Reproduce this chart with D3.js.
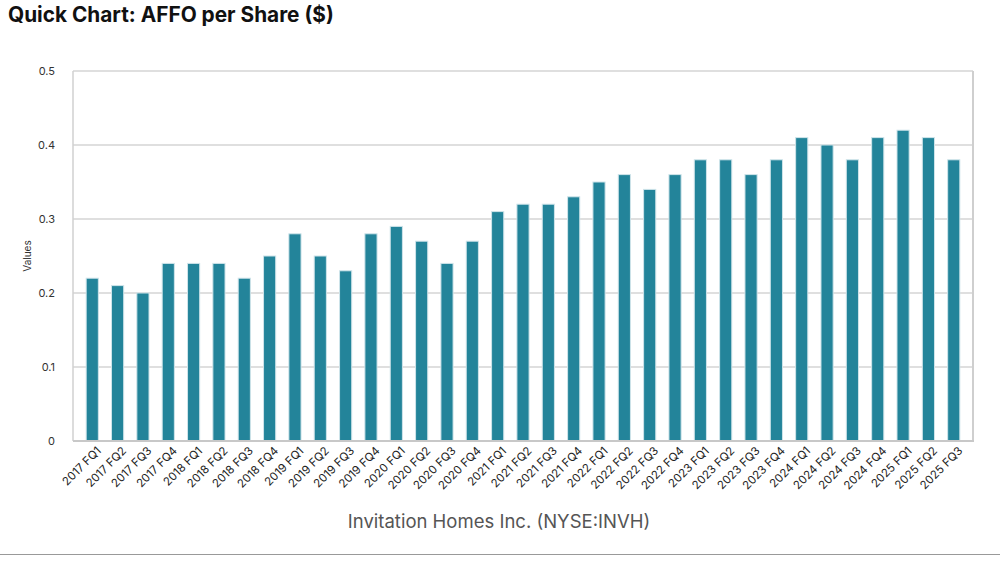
<!DOCTYPE html>
<html lang="en">
<head>
<meta charset="UTF-8">
<title>Quick Chart: AFFO per Share ($)</title>
<script src="https://d3js.org/d3.v7.min.js"></script>
<style>
  body { margin: 0; background: #fff; font-family: "Inter", "Roboto", sans-serif; }
</style>
</head>
<body>
<script>
// data
var quarters = ["2017 FQ1","2017 FQ2","2017 FQ3","2017 FQ4","2018 FQ1","2018 FQ2","2018 FQ3","2018 FQ4",
                "2019 FQ1","2019 FQ2","2019 FQ3","2019 FQ4","2020 FQ1","2020 FQ2","2020 FQ3","2020 FQ4",
                "2021 FQ1","2021 FQ2","2021 FQ3","2021 FQ4","2022 FQ1","2022 FQ2","2022 FQ3","2022 FQ4",
                "2023 FQ1","2023 FQ2","2023 FQ3","2023 FQ4","2024 FQ1","2024 FQ2","2024 FQ3","2024 FQ4",
                "2025 FQ1","2025 FQ2","2025 FQ3"];
var affo = [0.22,0.21,0.20,0.24,0.24,0.24,0.22,0.25,
            0.28,0.25,0.23,0.28,0.29,0.27,0.24,0.27,
            0.31,0.32,0.32,0.33,0.35,0.36,0.34,0.36,
            0.38,0.38,0.36,0.38,0.41,0.40,0.38,0.41,
            0.42,0.41,0.38];
var yTicks = [0, 0.1, 0.2, 0.3, 0.4, 0.5];

var w = 1000, h = 561;
var pLeft = 73, pRight = 973, pTop = 71, pBottom = 441;

var svg = d3.select("body").append("svg")
    .attr("width", w)
    .attr("height", h);

svg.append("text")
    .attr("x", 8).attr("y", 22)
    .attr("font-size", 20.8).attr("font-weight", 700)
    .attr("fill", "#111")
    .text("Quick Chart: AFFO per Share ($)");

var x = d3.scaleBand().domain(quarters).range([pLeft, pRight]).padding(0.52);
var y = d3.scaleLinear().domain([0, 0.5]).range([pBottom, pTop]);

// gridlines
svg.append("g").selectAll("line")
    .data(yTicks)
    .enter().append("line")
    .attr("x1", pLeft).attr("x2", pRight)
    .attr("y1", d => y(d)).attr("y2", d => y(d))
    .attr("stroke", "#d4d4d4").attr("stroke-width", 1.5);

// frame
svg.append("line").attr("x1", pLeft).attr("x2", pLeft).attr("y1", pTop).attr("y2", pBottom)
    .attr("stroke", "#d0d0d0").attr("stroke-width", 1.5);
svg.append("line").attr("x1", pRight).attr("x2", pRight).attr("y1", pTop).attr("y2", pBottom)
    .attr("stroke", "#cfcfcf").attr("stroke-width", 2);

// bars
svg.append("g").selectAll("rect")
    .data(affo)
    .enter().append("rect")
    .attr("x", (d, i) => x(quarters[i]))
    .attr("y", d => y(d))
    .attr("width", x.bandwidth())
    .attr("height", d => pBottom - y(d))
    .attr("fill", "#23849a")
    .attr("stroke", "#cfe4ea").attr("stroke-width", 1);

svg.append("line").attr("x1", pLeft).attr("x2", pRight + 1).attr("y1", pBottom).attr("y2", pBottom)
    .attr("stroke", "#c8c8c8").attr("stroke-width", 2);

// y axis
var yAxis = svg.append("g")
    .attr("transform", "translate(" + (pLeft - 15) + ",0)")
    .call(d3.axisLeft(y).tickValues(yTicks).tickSize(0).tickFormat(d3.format("~g")));
yAxis.select(".domain").remove();
yAxis.selectAll("text").attr("font-size", 11).attr("fill", "#333")
    .attr("font-family", "Inter, Roboto, sans-serif");

svg.append("text")
    .attr("transform", "translate(31," + ((pTop + pBottom) / 2) + ") rotate(-90)")
    .attr("text-anchor", "middle")
    .attr("font-size", 10).attr("fill", "#333")
    .text("Values");

// x axis
var xAxis = svg.append("g")
    .attr("transform", "translate(0," + (pBottom + 6) + ")")
    .call(d3.axisBottom(x).tickSize(0));
xAxis.select(".domain").remove();
xAxis.selectAll("text")
    .attr("font-size", 11.5).attr("fill", "#222")
    .attr("font-family", "Inter, Roboto, sans-serif")
    .attr("text-anchor", "end")
    .attr("dx", "0.3em").attr("dy", "0.6em")
    .attr("transform", "rotate(-45)");

svg.append("text")
    .attr("x", 499).attr("y", 528)
    .attr("text-anchor", "middle")
    .attr("font-size", 18.5).attr("fill", "#555")
    .text("Invitation Homes Inc. (NYSE:INVH)");

svg.append("line").attr("x1", 0).attr("x2", w).attr("y1", 554.5).attr("y2", 554.5)
    .attr("stroke", "#999").attr("stroke-width", 1.2);
</script>
</body>
</html>
